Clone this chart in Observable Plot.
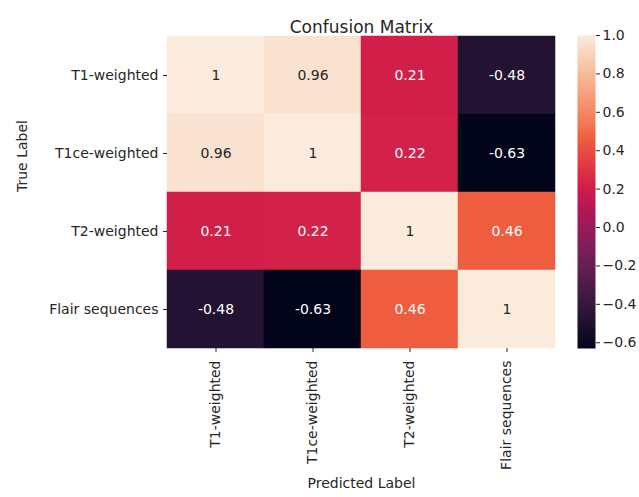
<!DOCTYPE html>
<html>
<head>
<meta charset="utf-8">
<script src="https://cdn.jsdelivr.net/npm/d3@7"></script>
<script src="https://cdn.jsdelivr.net/npm/@observablehq/plot@0.6"></script>
<style>
  html, body { margin: 0; padding: 0; background: #fff; }
  #chart { position: relative; width: 639px; height: 497px; font-family: "DejaVu Sans", sans-serif; }
  #chart > svg { position: absolute; top: 0; }
</style>
</head>
<body>
<div id="chart"></div>
<script>
// Sequence types (rows = true label, columns = predicted label)
const labels = ["T1-weighted", "T1ce-weighted", "T2-weighted", "Flair sequences"];
const matrix = [
  [1, 0.96, 0.21, -0.48],
  [0.96, 1, 0.22, -0.63],
  [0.21, 0.22, 1, 0.46],
  [-0.48, -0.63, 0.46, 1]
];
const colorTicks = [-0.6, -0.4, -0.2, 0.0, 0.2, 0.4, 0.6, 0.8, 1.0];
const vmin = -0.63, vmax = 1.0;

// "rocket"-like sequential ramp: positions along [0, 1] and their colours
const rampPos = [0, 0.143, 0.286, 0.429, 0.5, 0.571, 0.67, 0.714, 0.857, 1];
const rampCol = ["#03051a", "#35193e", "#701f57", "#ad1759", "#cc1a4c", "#e13342", "#ee5e40", "#f37651", "#f6b48f", "#faebdd"];

const colorScale = {
  type: "linear",
  domain: rampPos.map(t => vmin + t * (vmax - vmin)),
  range: rampCol,
  interpolate: "rgb"
};

const cells = [];
matrix.forEach((row, i) => row.forEach((v, j) => cells.push({t: labels[i], p: labels[j], v})));

const font = "DejaVu Sans";
const textDark = "#262626";

const heat = Plot.plot({
  width: 570,
  height: 497,
  marginLeft: 167,
  marginRight: 15,
  marginTop: 35,
  marginBottom: 149,
  style: {fontFamily: font, fontSize: "14px", color: textDark, background: "transparent"},
  x: {type: "band", domain: labels, padding: 0},
  y: {type: "band", domain: labels, padding: 0},
  color: colorScale,
  marks: [
    Plot.cell(cells, {x: "p", y: "t", fill: "v", inset: 0, stroke: "v", strokeWidth: 0.5}),
    Plot.text(cells, {
      x: "p", y: "t", text: d => String(d.v),
      fill: d => d.v > 0.6 ? textDark : "#ffffff",
      fontSize: 14
    }),
    Plot.axisY({label: null, tickSize: 4, tickPadding: 5, fontSize: 14, stroke: textDark}),
    Plot.axisX({label: null, tickSize: 4, tickPadding: 8, tickRotate: -90, fontSize: 14, stroke: textDark}),
    Plot.text(["Confusion Matrix"], {frameAnchor: "top", dy: -15, fontSize: 17, fill: textDark}),
    Plot.text(["True Label"], {frameAnchor: "left", dx: -145, rotate: -90, fontSize: 14, fill: textDark}),
    Plot.text(["Predicted Label"], {frameAnchor: "bottom", dy: 139, fontSize: 14, fill: textDark})
  ]
});

const bar = Plot.plot({
  width: 69,
  height: 497,
  marginLeft: 7,
  marginRight: 44,
  marginTop: 35,
  marginBottom: 149,
  style: {fontFamily: font, fontSize: "14px", color: textDark, background: "transparent"},
  x: {domain: [0, 1], axis: null},
  y: {domain: [vmin, vmax]},
  color: colorScale,
  marks: [
    Plot.raster({x1: 0, x2: 1, y1: vmin, y2: vmax, width: 1, height: 400, fill: (x, y) => y}),
    Plot.axisY(colorTicks, {anchor: "right", label: null, tickSize: 4, tickPadding: 3,
      tickFormat: d3.format(".1f"), fontSize: 14, stroke: textDark})
  ]
});

const root = document.getElementById("chart");
heat.style.left = "0px";
bar.style.left = "570px";
root.appendChild(heat);
root.appendChild(bar);
</script>
</body>
</html>
